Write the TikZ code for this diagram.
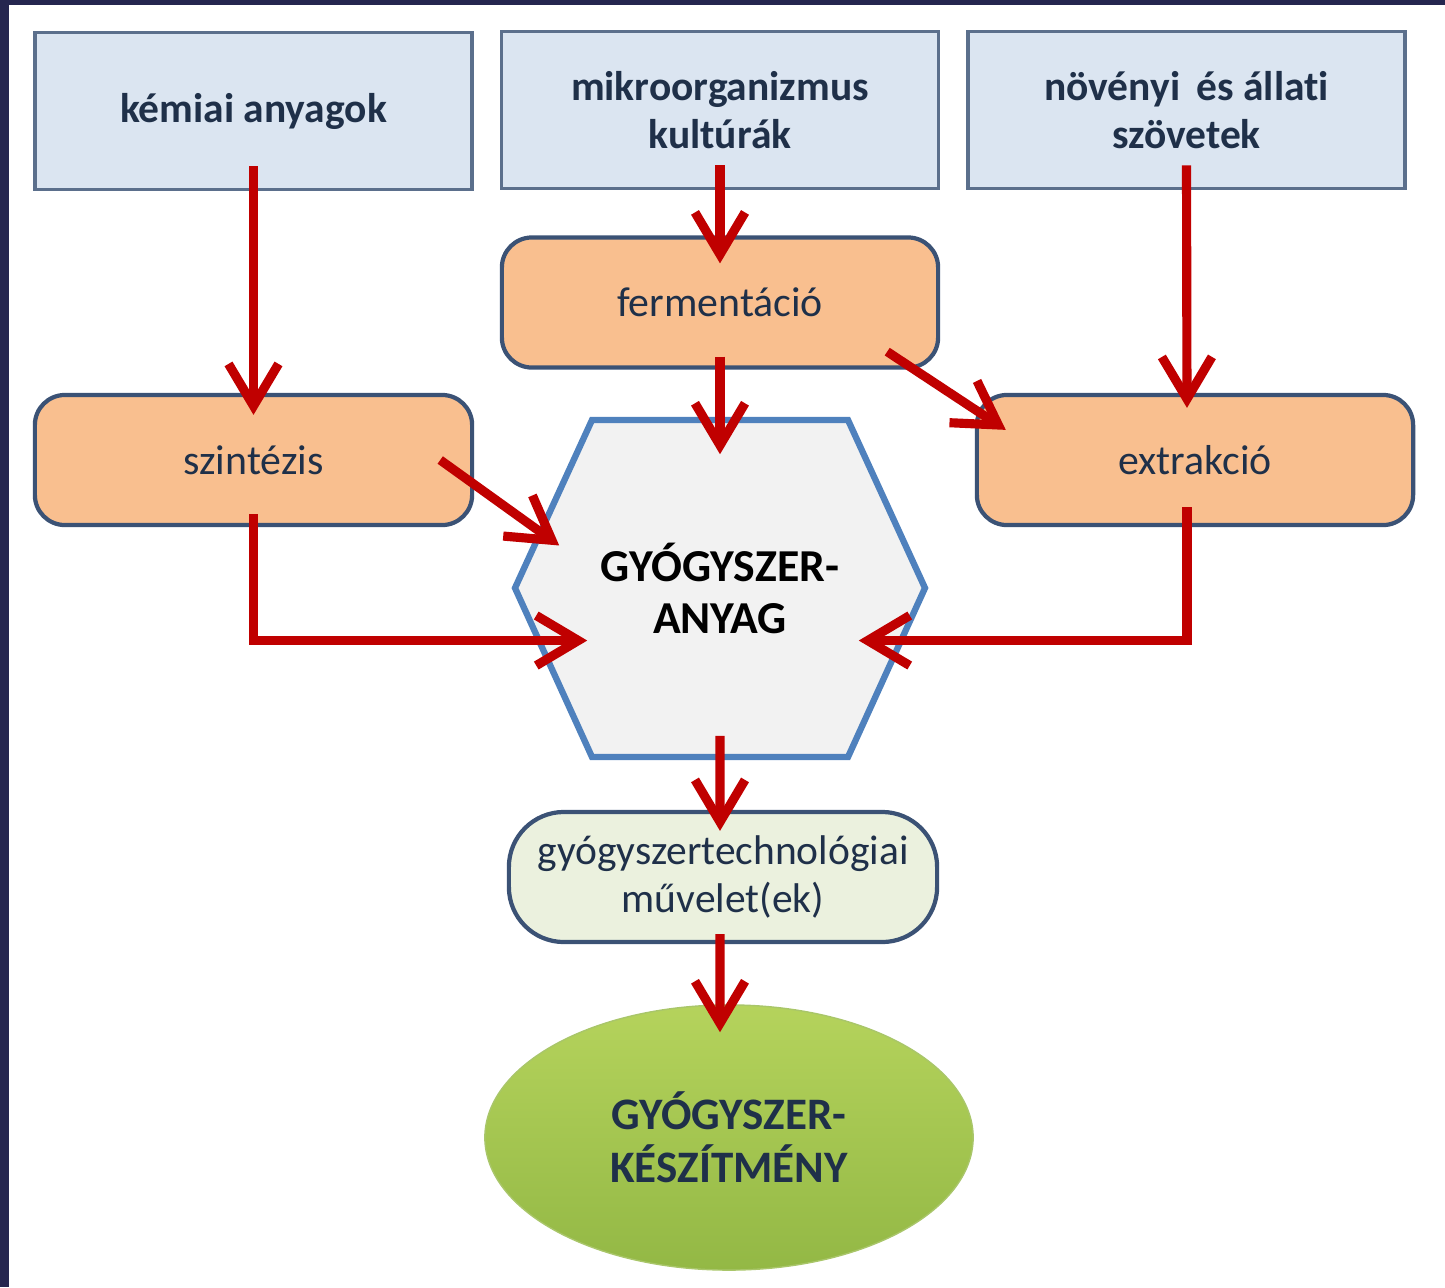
\documentclass[tikz,border=0pt]{standalone}
\usepackage{fontspec}
\setmainfont{Carlito}[Ligatures=NoCommon]
\usetikzlibrary{shapes.geometric,arrows.meta}
\definecolor{framenavy}{HTML}{25264F}
\definecolor{srcblue}{HTML}{DBE5F1}
\definecolor{srcedge}{HTML}{5B6F8C}
\definecolor{procpeach}{HTML}{F9BF8F}
\definecolor{procedge}{HTML}{3B5275}
\definecolor{hexfill}{HTML}{F2F2F2}
\definecolor{hexedge}{HTML}{4F81BD}
\definecolor{arrowred}{HTML}{C00000}
\definecolor{techgreen}{HTML}{EBF1DE}
\definecolor{prodgreen}{HTML}{93B845}
\definecolor{prodlight}{HTML}{B5D35C}
\definecolor{textnavy}{HTML}{1F3049}
\tikzset{
  source/.style={draw=srcedge, line width=1pt, fill=srcblue, minimum width=4.37cm, minimum height=1.57cm, inner sep=0pt, align=center, text=textnavy, font=\fontsize{11.8}{13.6}\selectfont\bfseries},
  process/.style={draw=procedge, line width=1.2pt, fill=procpeach, rounded corners=0.3cm, minimum height=1.3cm, inner sep=0pt, text=textnavy, font=\fontsize{11.9}{14}\selectfont},
  redarrow/.style={draw=arrowred, line width=2.6pt, -{Straight Barb[length=0.42cm,width=0.5cm]}}
}
\begin{document}
\begin{tikzpicture}[x=0.01cm,y=-0.01cm]
    \useasboundingbox (0,0) rectangle (1445,1287);
    \fill[framenavy] (0,0) rectangle (1445,5);
    \fill[framenavy] (0,0) rectangle (9,1287);
    % starting materials
    \node[source] (kem) at (253.5,111) {kémiai anyagok};
    \node[source] (mik) at (720,110) {mikroorganizmus\\kultúrák};
    \node[source] (nov) at (1186.5,110) {növényi\, és állati\\szövetek};
    % processes
    \node[process, minimum width=4.36cm] (ferm) at (720,302.5) {fermentáció};
    \node[process, minimum width=4.37cm] (szint) at (253.5,460) {szintézis};
    \node[process, minimum width=4.36cm] (extr) at (1195,460) {extrakció};
    % active substance
    \draw[line width=1.8pt, draw=hexedge, fill=hexfill] (592,420) -- (848,420) -- (925,588) -- (848,757) -- (592,757) -- (515,588) -- cycle;
    \node[minimum width=4.1cm, minimum height=3.37cm, inner sep=0pt, align=center, font=\fontsize{13}{15}\selectfont\bfseries] (hex) at (720,588.5) {GYÓGYSZER-\\ANYAG};
    \node[draw=procedge, line width=1.2pt, fill=techgreen, rounded corners=0.55cm, minimum width=4.28cm, minimum height=1.3cm, inner sep=0pt, align=center, text=textnavy, font=\fontsize{11.8}{13.6}\selectfont] (tech) at (723,877) {gyógyszertechnológiai\\művelet(ek)};
    \node[ellipse, top color=prodlight, bottom color=prodgreen, draw=prodgreen!80!white, minimum width=4.88cm, minimum height=2.65cm, inner sep=0pt, align=center, text=textnavy, font=\fontsize{12.8}{15}\selectfont\bfseries] (prod) at (729,1137.5) {GYÓGYSZER-\\KÉSZÍTMÉNY};
    % arrows
    \draw[redarrow] ([yshift=0.25cm]kem.south) -- ([yshift=-0.22cm]szint.north);
    \draw[redarrow] ([yshift=0.25cm]mik.south) -- ([yshift=-0.28cm]ferm.north);
    \draw[redarrow] ([yshift=0.25cm]nov.south) -- ([xshift=-0.08cm,yshift=-0.15cm]extr.north);
    \draw[redarrow] ([yshift=0.13cm]ferm.south) -- ([yshift=-0.35cm]hex.north);
    \draw[redarrow] ([xshift=-0.34cm]szint.east) -- ([xshift=0.45cm,yshift=0.43cm]hex.west);
    \draw[redarrow] ([xshift=-0.53cm,yshift=0.18cm]ferm.south east) -- ([xshift=0.31cm,yshift=-0.37cm]extr.north west);
    \draw[redarrow] ([yshift=0.13cm]szint.south) |- ([xshift=0.73cm,yshift=-0.52cm]hex.west);
    \draw[redarrow] ([xshift=-0.08cm,yshift=0.2cm]extr.south) |- ([xshift=-0.67cm,yshift=-0.52cm]hex.east);
    \draw[redarrow] ([yshift=0.22cm]hex.south) -- ([xshift=-0.03cm,yshift=-0.21cm]tech.north);
    \draw[redarrow] ([xshift=-0.03cm,yshift=0.1cm]tech.south) -- ([xshift=-0.09cm,yshift=-0.28cm]prod.north);
\end{tikzpicture}
\end{document}
